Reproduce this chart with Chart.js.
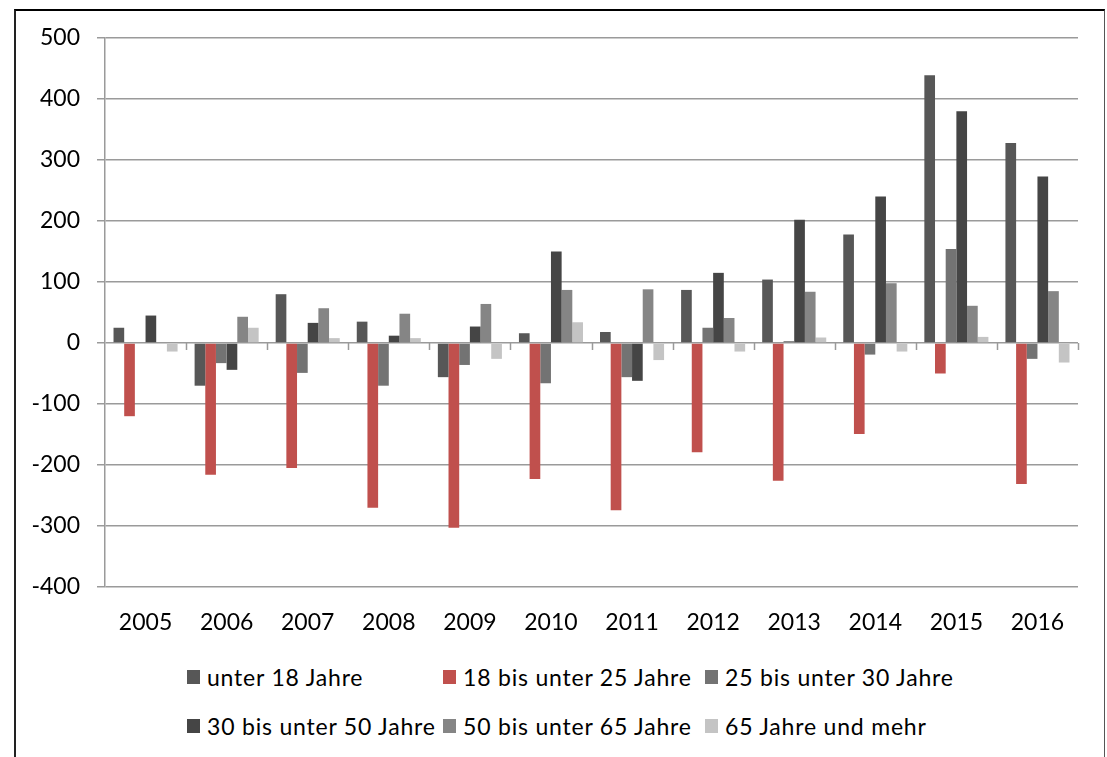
<!DOCTYPE html>
<html lang="de">
<head>
<meta charset="utf-8">
<script src="https://cdn.jsdelivr.net/npm/chart.js@4.4.1/dist/chart.umd.min.js"></script>
<style>
  html, body { margin: 0; padding: 0; background: #fff; }
  body { width: 1107px; height: 757px; position: relative; overflow: hidden; font-family: Lato, "Open Sans", sans-serif; }
  #frame {
    position: absolute; left: 14px; top: 9px; width: 1091px; height: 800px;
    border-top: 2px solid #000; border-left: 2px solid #222; border-right: 1px solid #555;
    box-sizing: border-box;
  }
  #wrap { position: absolute; left: 0; top: 0; width: 1107px; height: 650px; }
  #legend {
    position: absolute; left: 187px; top: 662px;
    display: grid; grid-template-columns: 256px 262px 262px; row-gap: 19px;
    font-size: 23px; color: #000; line-height: 30px; letter-spacing: 0.8px;
  }
  .item { display: flex; align-items: center; white-space: nowrap; }
  .box { width: 13px; height: 14px; margin-right: 7px; flex: none; }
</style>
</head>
<body>
<div id="frame"></div>
<div id="wrap"><canvas id="c" width="1107" height="650"></canvas></div>
<div id="legend"></div>
<script>
// Jahre (Kategorien)
const years = ['2005','2006','2007','2008','2009','2010','2011','2012','2013','2014','2015','2016'];

// Altersgruppen
const groupNames = [
  'unter 18 Jahre',
  '18 bis unter 25 Jahre',
  '25 bis unter 30 Jahre',
  '30 bis unter 50 Jahre',
  '50 bis unter 65 Jahre',
  '65 Jahre und mehr'
];

// Werte je Altersgruppe
const unter18   = [25, -70, 80, 35, -56, 16, 18, 87, 104, 178, 439, 328];
const von18bis25 = [-120, -216, -205, -270, -303, -223, -274, -179, -226, -149, -50, -231];
const von25bis30 = [0, -33, -49, -70, -36, -66, -56, 25, 3, -19, 154, -26];
const von30bis50 = [45, -44, 33, 12, 27, 150, -62, 115, 202, 240, 380, 273];
const von50bis65 = [0, 43, 57, 48, 64, 87, 88, 41, 84, 98, 61, 85];
const ab65       = [-14, 25, 8, 8, -26, 34, -28, -14, 9, -14, 10, -32];

// Achsenbeschriftung
const yMin = -400, yMax = 500, yStep = 100;

const seriesValues = [unter18, von18bis25, von25bis30, von30bis50, von50bis65, ab65];
const seriesColors = ['#575757', '#C0504D', '#737373', '#454545', '#858585', '#C4C4C4'];

const gridColor = '#9a9a9a';

// kleine Teilstriche an den Kategoriegrenzen auf der Nulllinie
const zeroTicks = {
  id: 'zeroTicks',
  afterDatasetsDraw(chart) {
    const x = chart.scales.x, y = chart.scales.y;
    const y0 = y.getPixelForValue(0);
    const n = chart.data.labels.length;
    const ctx = chart.ctx;
    ctx.save();
    ctx.strokeStyle = gridColor;
    ctx.lineWidth = 1.5;
    for (let i = 1; i <= n; i++) {
      const px = Math.round(x.left + i * x.width / n) + 0.5;
      ctx.beginPath();
      ctx.moveTo(px, y0);
      ctx.lineTo(px, y0 + 7);
      ctx.stroke();
    }
    ctx.restore();
  }
};

const chart = new Chart(document.getElementById('c'), {
  type: 'bar',
  data: {
    labels: years,
    datasets: groupNames.map((name, i) => ({
      label: name,
      data: seriesValues[i],
      backgroundColor: seriesColors[i],
      borderWidth: 0,
      categoryPercentage: 0.79,
      barPercentage: 1.0
    }))
  },
  options: {
    responsive: false,
    animation: false,
    events: [],
    layout: { padding: { top: 38, right: 29, left: 0, bottom: 0 } },
    plugins: { legend: { display: false }, tooltip: { enabled: false } },
    scales: {
      x: {
        grid: { display: false },
        border: { display: false },
        ticks: {
          color: '#000',
          font: { family: 'Lato', size: 23 },
          padding: 14,
          maxRotation: 0,
          autoSkip: false
        },
        afterFit(scale) { scale.height = 63; }
      },
      y: {
        min: yMin,
        max: yMax,
        ticks: {
          stepSize: yStep,
          color: '#000',
          font: { family: 'Lato', size: 23 },
          padding: 17
        },
        grid: {
          color: gridColor,
          lineWidth: 1.5,
          tickLength: 8,
          drawTicks: true
        },
        border: { display: true, color: gridColor, width: 1.5 },
        afterFit(scale) { scale.width = 105; }
      }
    }
  },
  plugins: [zeroTicks]
});

// Legende in drei Spalten
const legendEl = document.getElementById('legend');
chart.data.datasets.forEach(ds => {
  const item = document.createElement('div');
  item.className = 'item';
  const box = document.createElement('span');
  box.className = 'box';
  box.style.background = ds.backgroundColor;
  const txt = document.createElement('span');
  txt.textContent = ds.label;
  item.appendChild(box);
  item.appendChild(txt);
  legendEl.appendChild(item);
});
</script>
</body>
</html>
